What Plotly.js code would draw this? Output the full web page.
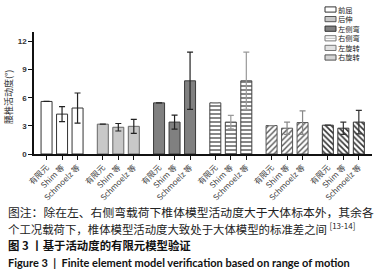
<!DOCTYPE html>
<html>
<head>
<meta charset="utf-8">
<script src="https://cdn.plot.ly/plotly-3.0.1.min.js"></script>
<style>html,body{margin:0;padding:0;background:#fff;}#chart{width:379px;height:274px;}</style>
</head>
<body>
<div id="chart"></div>
<script>
// ---- data ----
const motions = ['前屈','后伸','左侧弯','右侧弯','左旋转','右旋转'];
const methods = ['有限元','Shim 等','Schmoelz 等'];
const feValues = [5.6, 3.18, 5.45, 5.45, 3.03, 3.07];
const shimValues = [4.25, 2.85, 3.4, 3.4, 2.75, 2.75];
const shimSD = [0.8, 0.4, 0.75, 0.72, 0.65, 0.65];
const schmoelzValues = [4.9, 2.95, 7.8, 7.8, 3.35, 3.4];
const schmoelzSD = [1.6, 0.75, 3.05, 3.05, 1.25, 1.25];
const yTicks = [0, 3, 6, 9, 12];

// ---- styles ----
const GROUP_STEP = 3.63;
const styles = [
  {color:'#ffffff', line:'#333333', err:'#222222'},
  {color:'#c8c8c8', line:'#666666', err:'#222222'},
  {color:'#808080', line:'#3a3a3a', err:'#222222'},
  {color:'#555555', line:'#444444', err:'#999999', pattern:{shape:'-', size:4, solidity:0.35, bgcolor:'#ffffff'}},
  {color:'#555555', line:'#555555', err:'#888888', pattern:{shape:'/', size:4, solidity:0.35, bgcolor:'#ffffff'}},
  {color:'#333333', line:'#333333', err:'#333333', pattern:{shape:'\\', size:4, solidity:0.4, bgcolor:'#ffffff'}}
];

const traces = [];
const tickvals = [], ticktext = [];
motions.forEach((mo, g) => {
  const xs = methods.map((m, k) => g*GROUP_STEP + k);
  xs.forEach((x, k) => { tickvals.push(x); ticktext.push(methods[k]); });
  const st = styles[g];
  const marker = {color: st.color, line:{color: st.line, width:1}};
  if (st.pattern) marker.pattern = st.pattern;
  traces.push({
    type:'bar', name: mo, x: xs,
    y: [feValues[g], shimValues[g], schmoelzValues[g]],
    width: 0.71,
    marker: marker,
    error_y: {type:'data', array:[null, shimSD[g], schmoelzSD[g]], visible:true, color: st.err, thickness:1.2, width:3},
    showlegend:false, hoverinfo:'skip'
  });
});

// pixel -> paper helpers (plot area: l=34, t=32, w=338, h=122)
const L=34, T=32, W=338, H=122;
const px = v => (v - L)/W;
const py = v => (T + H - v)/H;

const shapes = [], annotations = [];
// manual legend
const legY0 = 9.5, legStep = 9.6;
const swatchFill = ['#ffffff','#c8c8c8','#808080','#ffffff','#e2e2e2','#d4d4d4'];
const swatchLine = ['#333','#555','#333','#777','#777','#555'];
motions.forEach((mo, i) => {
  const cy = legY0 + i*legStep;
  shapes.push({type:'rect', xref:'paper', yref:'paper', x0:px(325), x1:px(336), y0:py(cy+2.6), y1:py(cy-2.6),
    fillcolor: swatchFill[i], line:{color: swatchLine[i], width:1}});
  if (i === 3) {
    shapes.push({type:'line', xref:'paper', yref:'paper', x0:px(325.5), x1:px(335.5), y0:py(cy), y1:py(cy), line:{color:'#aaa', width:0.8}});
  }
  annotations.push({xref:'paper', yref:'paper', x:px(337), y:py(cy), xanchor:'left', yanchor:'middle', showarrow:false,
    borderpad:0, text: mo, font:{family:'Noto Sans CJK SC', size:7.3, color:'#222'}});
});

// y axis title
annotations.push({xref:'paper', yref:'paper', x:px(8), y:py(97), xanchor:'center', yanchor:'middle', showarrow:false,
  textangle:-90, text:'腰椎活动度(°)', font:{family:'Noto Sans CJK SC', size:9, color:'#333'}});

// caption
const capFont = {family:'Noto Sans CJK SC', size:11.4, color:'#222'};
annotations.push({xref:'paper', yref:'paper', x:px(6), y:py(212), xanchor:'left', yanchor:'middle', showarrow:false,
  text:'图注：除在左、右侧弯载荷下椎体模型活动度大于大体标本外，其余各', font:{family:'Noto Sans CJK SC', size:11.8, color:'#222'}});
annotations.push({xref:'paper', yref:'paper', x:px(6), y:py(228), xanchor:'left', yanchor:'middle', showarrow:false,
  text:'个工况载荷下，椎体模型活动度大致处于大体模型的标准差之间 <sup>[13-14]</sup>', font:capFont});
annotations.push({xref:'paper', yref:'paper', x:px(6), y:py(245), xanchor:'left', yanchor:'middle', showarrow:false,
  text:'<b>图 3 丨基于活动度的有限元模型验证</b>', font:{family:'Noto Sans CJK SC', size:11.4, color:'#111'}});
annotations.push({xref:'paper', yref:'paper', x:px(6), y:py(262), xanchor:'left', yanchor:'middle', showarrow:false,
  text:'<b>Figure 3  |  Finite element model verification based on range of motion</b>', font:{family:'Lato', size:11, color:'#111'}});

const layout = {
  width:379, height:274,
  margin:{l:L, r:7, t:T, b:120, pad:0},
  paper_bgcolor:'#fff', plot_bgcolor:'#fff',
  showlegend:false,
  barmode:'overlay',
  xaxis:{
    range:[-0.81, 21.0], tickvals:tickvals, ticktext:ticktext, tickangle:-45,
    showline:true, linecolor:'#111', linewidth:1.5, ticks:'outside', ticklen:4, tickwidth:1.2, tickcolor:'#111',
    showgrid:false, zeroline:false, fixedrange:true,
    tickfont:{family:'Noto Sans CJK SC', size:8, color:'#444'}
  },
  yaxis:{
    range:[0, 13], tickvals:yTicks, ticktext:yTicks.map(String),
    showline:true, linecolor:'#111', linewidth:1.5, ticks:'outside', ticklen:4, tickwidth:1.2, tickcolor:'#111',
    showgrid:false, zeroline:false, fixedrange:true,
    tickfont:{family:'Liberation Sans', size:8, color:'#333', weight:'bold'}
  },
  shapes:shapes, annotations:annotations
};

Plotly.newPlot('chart', traces, layout, {displayModeBar:false});
</script>
</body>
</html>
